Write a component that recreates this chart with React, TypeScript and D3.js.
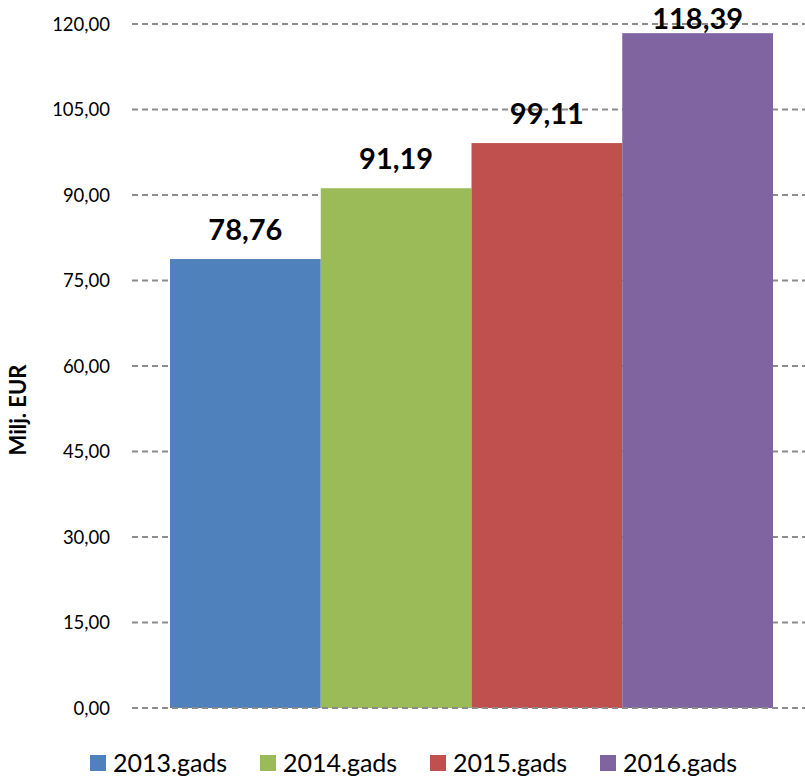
import React from "react";
import * as d3 from "d3";

const categories = ["2013.gads", "2014.gads", "2015.gads", "2016.gads"];
const values = [78.76, 91.19, 99.11, 118.39];
const colors = ["#4F81BD", "#9BBB59", "#C0504D", "#8064A2"];
const yTicks = [0, 15, 30, 45, 60, 75, 90, 105, 120];
const yTitle = "Milj. EUR";

const W = 805;
const H = 777;
const FONT = "Lato, 'Open Sans', sans-serif";

const fmt = (v: number, d: number) => v.toFixed(d).replace(".", ",");

export default function App() {
  const y = d3.scaleLinear().domain([0, 120]).range([708, 24]);
  const x = d3.scaleBand<string>().domain(categories).range([170, 773]).paddingInner(0).paddingOuter(0);
  const gridX0 = 132;
  const gridX1 = 805;
  const legendX = d3.scaleLinear().domain([0, 3]).range([90, 600]);

  return (
    <svg width={W} height={H} style={{ position: "absolute", left: 0, top: 0, background: "#fff" }}>
      {yTicks.map((t) => (
        <g key={t}>
          {t !== 0 && (
            <line x1={gridX0} x2={gridX1} y1={y(t)} y2={y(t)} stroke="#8c8c8c" strokeWidth={2} strokeDasharray="6,4" />
          )}
          <text x={110} y={y(t)} dy="0.36em" textAnchor="end" fontFamily={FONT} fontSize={18.5} fill="#000">
            {fmt(t, 2)}
          </text>
        </g>
      ))}
      {categories.map((c, i) => (
        <rect key={c} x={x(c)} y={y(values[i])} width={x.bandwidth()} height={y(0) - y(values[i])} fill={colors[i]} />
      ))}
      <line x1={gridX0} x2={gridX1} y1={y(0)} y2={y(0)} stroke="#8c8c8c" strokeWidth={2} strokeDasharray="6,4" />
      {categories.map((c, i) => {
        const top = y(values[i]);
        const by = Math.max(top - 19, 29);
        return (
          <text
            key={c + "l"}
            x={(x(c) as number) + x.bandwidth() / 2}
            y={by}
            textAnchor="middle"
            fontFamily={FONT}
            fontWeight="bold"
            fontSize={29}
            fill="#000"
          >
            {fmt(values[i], 2)}
          </text>
        );
      })}
      <text
        transform={`translate(26,410) rotate(-90)`}
        textAnchor="middle"
        fontFamily={FONT}
        fontWeight="bold"
        fontSize={22}
        fill="#000"
      >
        {yTitle}
      </text>
      {categories.map((c, i) => (
        <g key={c + "g"}>
          <rect x={legendX(i)} y={755} width={16} height={16} fill={colors[i]} />
          <text x={legendX(i) + 23} y={772} fontFamily={FONT} fontSize={25} fill="#000">
            {c}
          </text>
        </g>
      ))}
    </svg>
  );
}
